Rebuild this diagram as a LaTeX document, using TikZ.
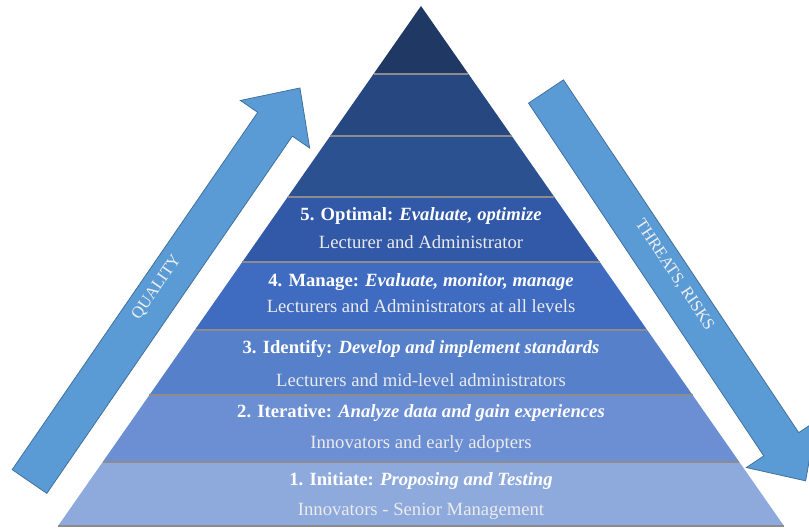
\documentclass[tikz,border=0pt]{standalone}
\usepackage{fontspec}
\setmainfont{Liberation Serif}
\usepackage{xcolor}
\definecolor{pyrlvla}{HTML}{8EAADD}
\definecolor{pyrlvlb}{HTML}{6C8FD4}
\definecolor{pyrlvlc}{HTML}{5680C9}
\definecolor{pyrlvld}{HTML}{3F6CC1}
\definecolor{pyrlvle}{HTML}{3159A7}
\definecolor{pyrlvlf}{HTML}{2C5191}
\definecolor{pyrlvlg}{HTML}{274780}
\definecolor{pyrlvlh}{HTML}{203864}
\definecolor{pyrarrowfill}{HTML}{5B9BD5}
\definecolor{pyrarrowline}{HTML}{41719C}
\usepackage{tikz}
\usetikzlibrary{calc}
\tikzset{
  pyrsep/.style={draw=black!45,line width=1.3pt},
  pyrtitle/.style={font=\fontsize{14}{16}\selectfont\bfseries,text=white,inner sep=0pt},
  pyrsub/.style={font=\fontsize{14}{16}\selectfont,text=white!92!black,inner sep=0pt},
  pyrarrow/.style={fill=pyrarrowfill,draw=pyrarrowline,line width=0.6pt,line join=miter},
  pyrarrowlabel/.style={font=\fontsize{12.5}{14}\selectfont,text=white!94!black,inner sep=0pt,transform shape},
}

\begin{document}
\begin{tikzpicture}[x=0.75pt,y=0.75pt]
\useasboundingbox (0,0) rectangle (809,528);
\clip (0,0) rectangle (809,528);

\coordinate (apex) at (421,522);
\coordinate (bl) at (58,2);
\coordinate (br) at (784,2);

% pyramid bands, apex downwards
\foreach \ta/\tb/\col in {0/0.1308/pyrlvlh,0.1308/0.25/pyrlvlg,0.25/0.3673/pyrlvlf,0.3673/0.4923/pyrlvle,0.4923/0.623/pyrlvld,0.623/0.748/pyrlvlc,0.748/0.877/pyrlvlb,0.877/1/pyrlvla}
  \fill[\col] ($(apex)!\ta!(bl)$) -- ($(apex)!\tb!(bl)$) -- ($(apex)!\tb!(br)$) -- ($(apex)!\ta!(br)$) -- cycle;
\foreach \tb in {0.1308,0.25,0.3673,0.4923,0.623,0.748,0.877,1}
  \draw[pyrsep] ($(apex)!\tb!(bl)$) -- ($(apex)!\tb!(br)$);

% level texts
\node[pyrtitle] (t5) at (421,312) {5. Optimal: \textit{Evaluate, optimize}};
\node[pyrsub] (s5) at (421,286) {Lecturer and Administrator};
\node[pyrtitle] (t4) at (421,246) {4. Manage: \textit{Evaluate, monitor, manage}};
\node[pyrsub] (s4) at (421,222) {Lecturers and Administrators at all levels};
\node[pyrtitle] (t3) at (421,179) {3. Identify: \textit{Develop and implement standards}};
\node[pyrsub] (s3) at (421,148) {Lecturers and mid-level administrators};
\node[pyrtitle] (t2) at (421,115) {2. Iterative: \textit{Analyze data and gain experiences}};
\node[pyrsub] (s2) at (421,84) {Innovators and early adopters};
\node[pyrtitle] (t1) at (421,47) {1. Initiate: \textit{Proposing and Testing}};
\node[pyrsub] (s1) at (421,17) {Innovators - Senior Management};

% rising arrow
\begin{scope}[shift={(29.5,46.5)},rotate=55.5]
  \draw[pyrarrow] (0,-21) -- (433.5,-21) -- (433.5,-42) -- (477.5,0) -- (433.5,42) -- (433.5,21) -- (0,21) -- cycle;
  \node[pyrarrowlabel] (quality) at (232,5) {QUALITY};
\end{scope}

% falling arrow
\begin{scope}[shift={(546,436.5)},rotate=-56.3]
  \draw[pyrarrow] (0,-21) -- (424,-21) -- (424,-42) -- (468,0) -- (424,42) -- (424,21) -- (0,21) -- cycle;
  \node[pyrarrowlabel] (threats) at (224,5) {THREATS, RISKS};
\end{scope}
\end{tikzpicture}
\end{document}
